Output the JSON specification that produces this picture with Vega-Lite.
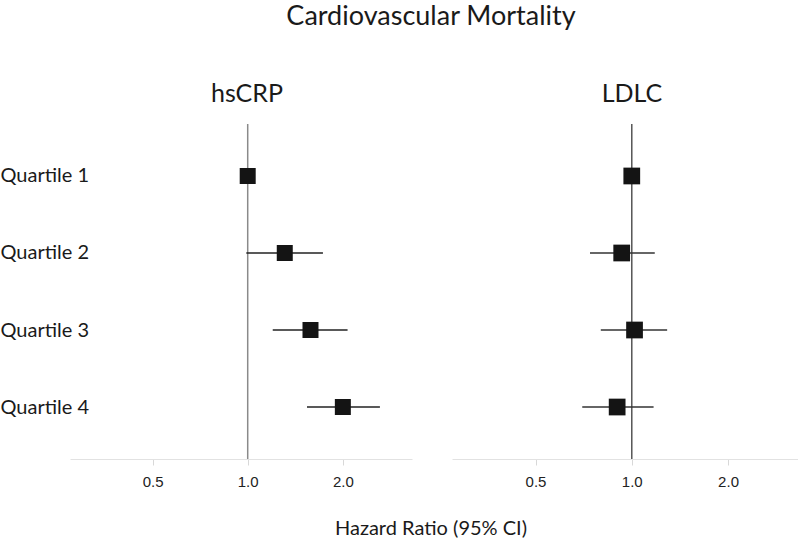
{
  "$schema": "https://vega.github.io/schema/vega-lite/v6.json",
  "background": "white",
  "padding": {"left": 0, "right": 0, "top": 3, "bottom": 0},
  "config": {
    "view": {"stroke": null},
    "font": "Lato",
    "title": {"font": "Lato", "fontWeight": "normal", "color": "#1a1a1a"}
  },
  "title": {"text": "Cardiovascular Mortality", "fontSize": 27, "dx": 32, "offset": 30, "baseline": "alphabetic", "anchor": "middle"},
  "datasets": {
    "hr": [
      {"marker": "hsCRP", "quartile": "Quartile 1", "hr": 1.0, "lo": 1.0, "hi": 1.0},
      {"marker": "hsCRP", "quartile": "Quartile 2", "hr": 1.31, "lo": 0.99, "hi": 1.73},
      {"marker": "hsCRP", "quartile": "Quartile 3", "hr": 1.58, "lo": 1.2, "hi": 2.07},
      {"marker": "hsCRP", "quartile": "Quartile 4", "hr": 2.0, "lo": 1.54, "hi": 2.62},
      {"marker": "LDLC", "quartile": "Quartile 1", "hr": 1.0, "lo": 1.0, "hi": 1.0},
      {"marker": "LDLC", "quartile": "Quartile 2", "hr": 0.93, "lo": 0.74, "hi": 1.18},
      {"marker": "LDLC", "quartile": "Quartile 3", "hr": 1.02, "lo": 0.8, "hi": 1.29},
      {"marker": "LDLC", "quartile": "Quartile 4", "hr": 0.9, "lo": 0.7, "hi": 1.17}
    ]
  },
  "vconcat": [
    {
      "title": {"text": "Hazard Ratio (95% CI)", "orient": "bottom", "fontSize": 20, "dx": 32, "offset": 46, "baseline": "alphabetic", "anchor": "middle"},
      "spacing": 40,
      "hconcat": [
        {
          "width": 342,
          "height": 335,
          "title": {"text": "hsCRP", "fontSize": 25, "dx": 6, "offset": -4, "baseline": "alphabetic"},
          "layer": [
            {
              "data": {"values": [{}]},
              "mark": {"type": "rule", "color": "#8a8a8a", "strokeWidth": 1.5},
              "encoding": {
                "x": {"datum": 1, "type": "quantitative", "scale": {"type": "log", "domain": [0.274, 3.31], "nice": false},
                  "axis": {"values": [0.5, 1, 2], "format": ".1f", "grid": false, "domainColor": "#e2e2e2", "tickColor": "#d8d8d8", "tickSize": 6,
                    "labelFont": "Liberation Sans", "labelFontSize": 15, "labelColor": "#222222", "labelPadding": 9, "title": null}}
              }
            },
            {
              "data": {"name": "hr"},
              "transform": [{"filter": "datum.marker === 'hsCRP'"}],
              "mark": {"type": "rule", "color": "#222222", "strokeWidth": 1.5},
              "encoding": {
                "x": {"field": "lo", "type": "quantitative"},
                "x2": {"field": "hi"},
                "y": {"field": "quartile", "type": "ordinal", "scale": {"type": "point", "padding": 0.675},
                  "axis": {"title": null, "domain": false, "ticks": false, "tickSize": 0, "grid": false, "labelAlign": "left", "labelPadding": 70, "labelFont": "Lato", "labelFontSize": 20, "labelColor": "#1a1a1a"}}
              }
            },
            {
              "data": {"name": "hr"},
              "transform": [{"filter": "datum.marker === 'hsCRP'"}],
              "mark": {"type": "point", "shape": "square", "filled": true, "color": "#141414", "size": 256, "opacity": 1},
              "encoding": {
                "x": {"field": "hr", "type": "quantitative"},
                "y": {"field": "quartile", "type": "ordinal"}
              }
            }
          ]
        },
        {
          "width": 346,
          "height": 335,
          "title": {"text": "LDLC", "fontSize": 25, "offset": -4, "baseline": "alphabetic", "dx": 7},
          "layer": [
            {
              "data": {"values": [{}]},
              "mark": {"type": "rule", "color": "#555555", "strokeWidth": 1.5},
              "encoding": {
                "x": {"datum": 1, "type": "quantitative", "scale": {"type": "log", "domain": [0.274, 3.31], "nice": false},
                  "axis": {"values": [0.5, 1, 2], "format": ".1f", "grid": false, "domainColor": "#e2e2e2", "tickColor": "#d8d8d8", "tickSize": 6,
                    "labelFont": "Liberation Sans", "labelFontSize": 15, "labelColor": "#222222", "labelPadding": 9, "title": null}}
              }
            },
            {
              "data": {"name": "hr"},
              "transform": [{"filter": "datum.marker === 'LDLC'"}],
              "mark": {"type": "rule", "color": "#333333", "strokeWidth": 1.5},
              "encoding": {
                "x": {"field": "lo", "type": "quantitative"},
                "x2": {"field": "hi"},
                "y": {"field": "quartile", "type": "ordinal", "scale": {"type": "point", "padding": 0.675}, "axis": null}
              }
            },
            {
              "data": {"name": "hr"},
              "transform": [{"filter": "datum.marker === 'LDLC'"}],
              "mark": {"type": "point", "shape": "square", "filled": true, "color": "#141414", "size": 280, "opacity": 1},
              "encoding": {
                "x": {"field": "hr", "type": "quantitative"},
                "y": {"field": "quartile", "type": "ordinal"}
              }
            }
          ]
        }
      ]
    }
  ]
}
